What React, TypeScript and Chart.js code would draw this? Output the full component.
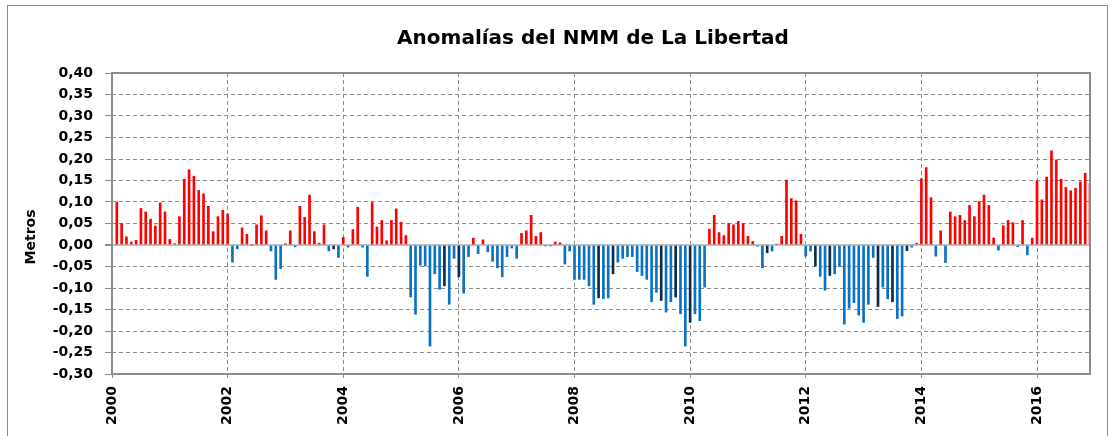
import { useEffect, useRef } from 'react';
import { Chart, registerables } from 'chart.js';

Chart.register(...registerables);

// Monthly sea-level anomalies (m); month index 1 = first bar after the 2000 tick
const anom2000 = [0.100, 0.050, 0.019, 0.007, 0.011, 0.085, 0.077, 0.060, 0.044, 0.098, 0.077, 0.013];
const anom2001 = [0.003, 0.066, 0.153, 0.175, 0.160, 0.127, 0.119, 0.090, 0.031, 0.066, 0.081, 0.072];
const anom2002 = [-0.040, -0.009, 0.040, 0.025, 0.000, 0.047, 0.068, 0.033, -0.014, -0.080, -0.055, 0.003];
const anom2003 = [0.033, -0.004, 0.090, 0.064, 0.116, 0.031, 0.004, 0.047, -0.014, -0.009, -0.029, 0.018];
const anom2004 = [-0.005, 0.036, 0.088, -0.005, -0.073, 0.099, 0.042, 0.057, 0.010, 0.057, 0.084, 0.053];
const anom2005 = [0.022, -0.121, -0.161, -0.047, -0.049, -0.235, -0.067, -0.103, -0.095, -0.138, -0.031, -0.074];
const anom2006 = [-0.112, -0.027, 0.016, -0.020, 0.012, -0.016, -0.038, -0.053, -0.074, -0.027, -0.007, -0.031];
const anom2007 = [0.027, 0.033, 0.069, 0.020, 0.029, -0.002, -0.002, 0.007, 0.005, -0.044, -0.014, -0.080];
const anom2008 = [-0.080, -0.080, -0.095, -0.138, -0.123, -0.125, -0.123, -0.067, -0.040, -0.031, -0.027, -0.027];
const anom2009 = [-0.062, -0.071, -0.080, -0.132, -0.110, -0.129, -0.156, -0.132, -0.121, -0.160, -0.235, -0.180];
const anom2010 = [-0.160, -0.176, -0.098, 0.037, 0.069, 0.029, 0.022, 0.050, 0.047, 0.055, 0.050, 0.020];
const anom2011 = [0.008, -0.003, -0.053, -0.018, -0.014, 0.002, 0.020, 0.151, 0.108, 0.103, 0.025, -0.026];
const anom2012 = [-0.014, -0.049, -0.073, -0.105, -0.071, -0.067, -0.050, -0.184, -0.147, -0.134, -0.163, -0.180];
const anom2013 = [-0.138, -0.029, -0.143, -0.098, -0.125, -0.132, -0.171, -0.165, -0.013, -0.005, 0.004, 0.154];
const anom2014 = [0.180, 0.110, -0.026, 0.033, -0.041, 0.077, 0.066, 0.069, 0.057, 0.092, 0.066, 0.101];
const anom2015 = [0.116, 0.092, 0.016, -0.012, 0.045, 0.057, 0.052, -0.004, 0.057, -0.023, 0.016, 0.149];
const anom2016 = [0.105, 0.158, 0.219, 0.198, 0.153, 0.134, 0.126, 0.132, 0.147, 0.167, 0.143];

// Months whose bars are drawn in a darker blue in the reference
const darkMonths = [46, 69, 72, 101, 104, 114, 117, 120, 136, 146, 149, 159, 162, 165];

const yearLabels = ['2000', '2002', '2004', '2006', '2008', '2010', '2012', '2014', '2016'];
const yTickValues = [-0.30, -0.25, -0.20, -0.15, -0.10, -0.05, 0, 0.05, 0.10, 0.15, 0.20, 0.25, 0.30, 0.35, 0.40];

const TITLE = 'Anomalías del NMM de La Libertad';
const Y_TITLE = 'Metros';

const RED = '#ff0000';
const BLUE = '#0a72c4';
const DARK = '#0d2c4a';
const GRID = '#8c8c8c';
const FONT = 'DejaVu Sans';

export default function App() {
  const ref = useRef<HTMLCanvasElement | null>(null);

  useEffect(() => {
    if (!ref.current) return;
    const values = [
      ...anom2000, ...anom2001, ...anom2002, ...anom2003, ...anom2004, ...anom2005,
      ...anom2006, ...anom2007, ...anom2008, ...anom2009, ...anom2010, ...anom2011,
      ...anom2012, ...anom2013, ...anom2014, ...anom2015, ...anom2016,
    ];
    const points = values.map((v, i) => ({ x: i + 1, y: v }));
    const colors = values.map((v, i) =>
      darkMonths.includes(i + 1) ? DARK : v >= 0 ? RED : BLUE
    );

    const decor = {
      id: 'decor',
      afterDraw(chart: any) {
        const { ctx, chartArea } = chart;
        ctx.save();
        ctx.strokeStyle = GRID;
        ctx.lineWidth = 2;
        ctx.setLineDash([]);
        ctx.strokeRect(chartArea.left, chartArea.top, chartArea.right - chartArea.left, chartArea.bottom - chartArea.top);
        ctx.fillStyle = '#000';
        ctx.font = `bold 20px "${FONT}"`;
        ctx.textAlign = 'center';
        ctx.textBaseline = 'middle';
        ctx.fillText(TITLE, 593, 39);
        ctx.translate(31, 237);
        ctx.rotate(-Math.PI / 2);
        ctx.font = `bold 14px "${FONT}"`;
        ctx.fillText(Y_TITLE, 0, 0);
        ctx.restore();
      },
    };

    const chart = new Chart(ref.current, {
      type: 'bar',
      data: {
        datasets: [
          {
            data: points as any,
            backgroundColor: colors,
            borderWidth: 0,
            barThickness: 2,
          },
        ],
      },
      options: {
        animation: false,
        responsive: false,
        events: [],
        layout: { padding: { top: 73, right: 23, left: 0, bottom: 0 } },
        plugins: {
          legend: { display: false },
          tooltip: { enabled: false },
          title: { display: false },
        },
        scales: {
          x: {
            type: 'linear',
            min: 0,
            max: 203,
            offset: false,
            afterBuildTicks: (s: any) => {
              s.ticks = yearLabels.map((_, i) => ({ value: i * 24 }));
            },
            afterFit: (s: any) => {
              s.height = 62;
            },
            grid: {
              offset: false,
              color: GRID,
              lineWidth: 1,
              tickLength: 4,
              tickBorderDash: [],
              tickColor: GRID,
            },
            border: { display: false, dash: [4, 3] },
            ticks: {
              autoSkip: false,
              minRotation: 90,
              maxRotation: 90,
              padding: 8,
              color: '#000',
              font: { family: FONT, weight: 'bold', size: 14 },
              callback: (v: any) => yearLabels[Math.round(Number(v) / 24)] ?? '',
            },
          },
          y: {
            min: -0.3,
            max: 0.4,
            afterBuildTicks: (s: any) => {
              s.ticks = yTickValues.map((v) => ({ value: v }));
            },
            afterFit: (s: any) => {
              s.width = 112;
            },
            grid: {
              color: (c: any) => (c.tick && Math.abs(c.tick.value) < 1e-9 ? '#bfbfbf' : GRID),
              lineWidth: (c: any) => (c.tick && Math.abs(c.tick.value) < 1e-9 ? 2 : 1),
              tickLength: 7,
              tickBorderDash: [],
              tickColor: GRID,
            },
            border: {
              display: false,
              dash: (c: any) => (c.tick && Math.abs(c.tick.value) < 1e-9 ? [] : [4, 3]),
            } as any,
            ticks: {
              padding: 12,
              color: '#000',
              font: { family: FONT, weight: 'bold', size: 14 },
              callback: (v: any) => {
                const n = Number(v);
                return (Math.abs(n) < 1e-9 ? 0 : n).toFixed(2).replace('.', ',');
              },
            },
          },
        },
      } as any,
      plugins: [decor],
    });

    return () => chart.destroy();
  }, []);

  return (
    <div style={{ position: 'fixed', left: 0, top: 0, width: 1113, height: 436, background: '#fff', overflow: 'hidden' }}>
      <div
        style={{
          position: 'absolute',
          left: 7,
          top: 5,
          width: 1101,
          height: 440,
          border: '1px solid #8c8c8c',
          borderBottom: 'none',
          boxSizing: 'border-box',
        }}
      />
      <canvas ref={ref} width={1113} height={436} style={{ position: 'absolute', left: 0, top: 0, display: 'block' }} />
    </div>
  );
}
